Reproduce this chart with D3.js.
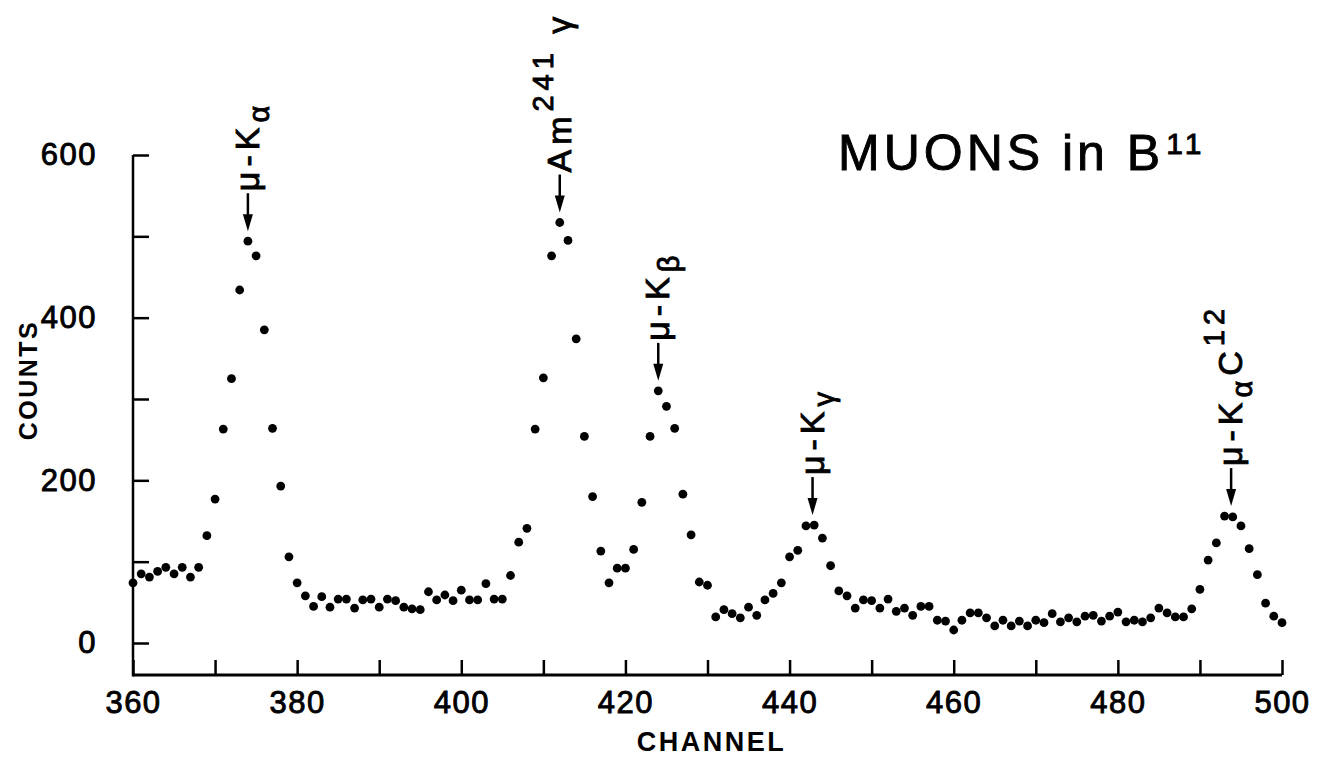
<!DOCTYPE html>
<html>
<head>
<meta charset="utf-8">
<script src="https://cdn.jsdelivr.net/npm/d3@7"></script>
<style>
  body { margin: 0; background: #fff; }
  svg { display: block; font-family: "Liberation Sans", Arial, sans-serif; }
  .heavy { stroke: #000; stroke-width: 0.9px; }
</style>
</head>
<body>
<svg></svg>
<script>
// channel numbers and counts, one per channel 360..500
const firstChannel = 360;
const counts = [
    74, 85, 81, 88, 93, 85, 93, 81, 93, 132,
    177, 263, 325, 434, 494, 476, 385, 264, 193, 106,
    74, 58, 45, 57, 44, 54, 54, 43, 53, 54,
    44, 54, 52, 44, 42, 41, 63, 53, 59, 52,
    65, 53, 53, 73, 54, 54, 83, 124, 141, 263,
    326, 476, 517, 495, 374, 254, 180, 113, 74, 92,
    92, 115, 173, 254, 310, 291, 264, 183, 133, 75,
    71, 32, 41, 36, 31, 44, 34, 53, 61, 74,
    106, 114, 144, 145, 129, 95, 64, 58, 43, 53,
    52, 43, 54, 39, 43, 34, 45, 45, 28, 27,
    16, 28, 37, 37, 31, 21, 28, 21, 27, 21,
    28, 25, 36, 26, 31, 26, 33, 34, 27, 33,
    38, 26, 28, 26, 31, 43, 37, 32, 32, 42,
    66, 102, 123, 156, 155, 144, 116, 84, 49, 33,
    25
];

const xTicks = [360, 370, 380, 390, 400, 410, 420, 430, 440, 450, 460, 470, 480, 490, 500];
const xTickLabels = [360, 380, 400, 420, 440, 460, 480, 500];
const yTicks = [0, 100, 200, 300, 400, 500, 600];
const yTickLabels = [0, 200, 400, 600];

// peak annotations: where the arrow points and what it says
// each text piece: [string, "n" normal | "sub" | "sup"]
const peakChannels = [374, 412, 424, 442.8, 493.8];
const peakCounts = [494, 517, 310, 145, 156];
const peakTexts = [
    [["μ-K", "n"], ["α", "sub"]],
    [["Am", "n"], ["241", "sup"], [" γ", "n"]],
    [["μ-K", "n"], ["β", "sub"]],
    [["μ-K", "n"], ["γ", "sub"]],
    [["μ-K", "n"], ["α", "sub"], ["C", "n"], ["12", "sup"]]
];

const width = 1319;
const height = 759;
const plotLeft = 133, plotRight = 1282, plotTop = 155, plotBottom = 675;

const svg = d3.select("svg")
    .attr("width", width)
    .attr("height", height);

svg.append("rect").attr("width", width).attr("height", height).attr("fill", "#fff");

const xScale = d3.scaleLinear()
    .domain([360, 500])
    .range([plotLeft, plotRight]);

const yScale = d3.scaleLinear()
    .domain([0, 600])
    .range([643, plotTop]);

// x axis, ticks pointing up into the plot
const xAxis = d3.axisBottom(xScale)
    .tickValues(xTicks)
    .tickSize(-15)
    .tickPadding(16)
    .tickFormat(d => xTickLabels.includes(d) ? d : "");

const gx = svg.append("g")
    .attr("transform", `translate(0, ${plotBottom})`)
    .call(xAxis);
gx.select(".domain").remove();
gx.selectAll(".tick line").attr("stroke", "#000").attr("stroke-width", 2.5);
gx.selectAll(".tick text")
    .attr("fill", "#000")
    .attr("class", "heavy")
    .style("font-size", "31px")
    .style("letter-spacing", "1.5px");

// y axis, ticks pointing right
const yAxis = d3.axisLeft(yScale)
    .tickValues(yTicks)
    .tickSize(-16)
    .tickPadding(36)
    .tickFormat(d => yTickLabels.includes(d) ? d : "");

const gy = svg.append("g")
    .attr("transform", `translate(${plotLeft}, 0)`)
    .call(yAxis);
gy.select(".domain").remove();
gy.selectAll(".tick line").attr("stroke", "#000").attr("stroke-width", 2.5);
gy.selectAll(".tick text")
    .attr("fill", "#000")
    .attr("class", "heavy")
    .style("font-size", "31px")
    .style("letter-spacing", "1.5px");

// axis lines
svg.append("line")
    .attr("x1", plotLeft).attr("x2", plotRight)
    .attr("y1", plotBottom).attr("y2", plotBottom)
    .attr("stroke", "#000").attr("stroke-width", 3);
svg.append("line")
    .attr("x1", plotLeft).attr("x2", plotLeft)
    .attr("y1", plotTop).attr("y2", plotBottom + 1.5)
    .attr("stroke", "#000").attr("stroke-width", 2.5);

// axis titles
svg.append("text")
    .attr("x", (plotLeft + plotRight) / 2 + 4)
    .attr("y", 751)
    .attr("text-anchor", "middle")
    .style("font-size", "27px")
    .style("font-weight", "bold")
    .style("letter-spacing", "2.5px")
    .text("CHANNEL");

svg.append("text")
    .attr("transform", "translate(37, 380) rotate(-90)")
    .attr("text-anchor", "middle")
    .style("font-size", "25px")
    .style("font-weight", "bold")
    .style("letter-spacing", "2.5px")
    .text("COUNTS");

// data points
svg.selectAll("circle.pt")
    .data(counts)
    .enter()
    .append("circle")
    .attr("class", "pt")
    .attr("cx", (d, i) => xScale(firstChannel + i))
    .attr("cy", d => yScale(d))
    .attr("r", 4.4)
    .attr("fill", "#000");

// title
const title = svg.append("text")
    .attr("x", 838)
    .attr("y", 170)
    .attr("class", "heavy")
    .style("font-size", "50px")
    .style("letter-spacing", "4px");
title.append("tspan").text("MUONS in B");
title.append("tspan").attr("dx", 2).attr("dy", "-0.55em").style("font-size", "30px").text("11");

// peak arrows and labels
const gap = 10, shaft = 38;
peakChannels.forEach((ch, i) => {
    const px = xScale(ch);
    const tipY = yScale(peakCounts[i]) - gap;
    const tailY = tipY - shaft;

    svg.append("line")
        .attr("x1", px).attr("x2", px)
        .attr("y1", tailY).attr("y2", tipY - 10)
        .attr("stroke", "#000").attr("stroke-width", 2.5);
    svg.append("path")
        .attr("d", `M${px - 5},${tipY - 17} L${px + 5},${tipY - 17} L${px},${tipY} Z`)
        .attr("fill", "#000");

    const t = svg.append("text")
        .attr("transform", `translate(${px}, ${tailY - 2}) rotate(-90)`)
        .attr("y", 11)
        .attr("class", "heavy")
        .style("font-size", "34px")
        .style("letter-spacing", "5px");

    let shift = 0;
    peakTexts[i].forEach(([s, kind]) => {
        const sp = t.append("tspan").text(s);
        let target = 0;
        if (kind === "sub") { target = 10; sp.style("font-size", "29px"); }
        if (kind === "sup") { target = -18; sp.style("font-size", "29px"); }
        sp.attr("dy", target - shift);
        shift = target;
    });
});
</script>
</body>
</html>
